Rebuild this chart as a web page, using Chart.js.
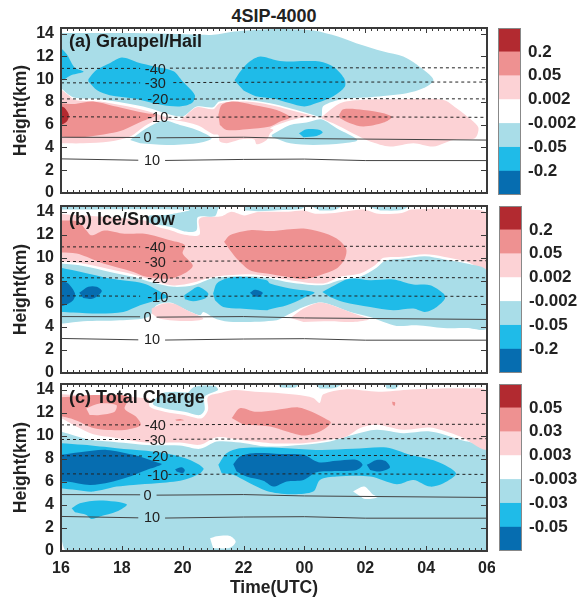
<!DOCTYPE html>
<html>
<head>
<meta charset="utf-8">
<script src="https://cdn.jsdelivr.net/npm/chart.js@4"></script>
<style>
body { margin: 0; background: #fff; }
canvas { position: absolute; }
#mainTitle { position: absolute; left: 0; top: 6px; width: 548px; text-align: center; font: bold 18px 'Liberation Sans', Arial, sans-serif; color: #222; }
</style>
</head>
<body>
<div id="mainTitle">4SIP-4000</div>
<canvas id="panelA" width="495" height="189" style="left:0;top:18px"></canvas>
<canvas id="panelB" width="495" height="191" style="left:0;top:196px"></canvas>
<canvas id="panelC" width="495" height="225" style="left:0;top:374px"></canvas>
<canvas id="barA" width="82" height="191" style="left:498px;top:18px"></canvas>
<canvas id="barB" width="82" height="191" style="left:499px;top:196px"></canvas>
<canvas id="barC" width="82" height="191" style="left:499px;top:374px"></canvas>
<script>
const FONT = "'Liberation Sans', Arial, sans-serif";
const DARK_BLUE = '#066db0', CYAN = '#1fbbe8', LIGHT_BLUE = '#a9dde8', WHITE = '#ffffff';
const PINK = '#fcd2d5', SALMON = '#ee9191', DARK_RED = '#b22a30';
const barColors = [DARK_BLUE, CYAN, LIGHT_BLUE, WHITE, PINK, SALMON, DARK_RED];

const hourLabels = ['16', '18', '20', '22', '00', '02', '04', '06'];
const barLabelsAB = ['0.2', '0.05', '0.002', '-0.002', '-0.05', '-0.2'];
const barLabelsC = ['0.05', '0.03', '0.003', '-0.003', '-0.03', '-0.05'];

// temperature contours, [time, km], null leaves the gap for the label
const tempM40 = [[16, 10.95], [18.6, 10.95], [19.58, null], [19.58, 10.97], [24, 11], [30, 11]];
const tempM30 = [[16, 9.68], [18.6, 9.68], [19.69, null], [19.69, 9.7], [24, 9.75], [30, 9.75]];
const tempM20 = [[16, 8.27], [18.7, 8.25], [19.58, null], [19.58, 8.25], [24, 8.3], [30, 8.27]];
const tempM10 = [[16, 6.7], [18.6, 6.67], [19.53, null], [19.53, 6.65], [24, 6.7], [30, 6.65]];
const temp0 = [[16, 4.9], [18.6, 4.88], [19.14, null], [19.14, 4.85], [22, 4.9], [24, 4.78], [30, 4.65]];
const temp10 = [[16, 3], [18.54, 2.88], [19.42, null], [19.42, 2.86], [22, 2.95], [24, 2.98], [26, 2.85], [30, 2.85]];
const tempLines = [tempM40, tempM30, tempM20, tempM10, temp0, temp10];
const tempDashed = [true, true, true, true, false, false];
const tempNames = ['-40', '-30', '-20', '-10', '0', '10'];
const tempNameSpots = [[19.1, 10.85], [19.1, 9.55], [19.18, 8.15], [19.18, 6.55], [18.84, 4.8], [18.99, 2.85]];

// (a) graupel/hail
const aLightTop = [[16, 14.05], [18.4, 14.05], [20.6, 13.9], [21, 13.9], [21.7, 14.2], [22.8, 14.4], [23.5, 14.4], [24.3, 14.28], [25.1, 13.75], [25.7, 13.17], [26.6, 12.43], [27.25, 12], [27.7, 11.26], [28.24, 9.94], [27.9, 9.2], [27.36, 8.77], [26.16, 8.42], [25.28, 8.27], [24.62, 7.65], [24.55, 6.7], [24.29, 6.86], [23.53, 7.45], [22.87, 7.89], [22.1, 8.18], [21.2, 8.03], [21, 7.53], [20.46, 7.6], [19.96, 6.72], [18.7, 7.6], [17.28, 8.24], [16.4, 8.42], [16, 9.2]];
const aLightLow1 = [[18.27, 4.66], [18.81, 5.69], [19.36, 6.36], [19.91, 5.98], [20.46, 5.54], [20.95, 4.81], [20.46, 4.37], [19.47, 4.22], [18.6, 4.37]];
const aLightLow2 = [[22.92, 5.1], [23.2, 5.54], [23.53, 5.98], [24.07, 6.19], [24.55, 6.48], [25.06, 5.69], [25.74, 4.66], [25.28, 4.37], [24.29, 4.22], [23.53, 4.37], [22.95, 4.9]];
const aPinkLeft = [[16, 9.1], [16.2, 8.7], [16.46, 8.18], [17.28, 8.03], [18.7, 7.3], [19.8, 6.42], [19.96, 6.5], [20.46, 7.54], [21, 7.36], [21.22, 7.89], [22.1, 8.03], [22.87, 7.74], [23.53, 7.3], [24.29, 6.77], [24.35, 6.7], [23.97, 6.66], [23.42, 6.28], [22.87, 5.69], [22.98, 5.54], [22.87, 5.25], [22.76, 4.66], [22.43, 4.28], [22.35, 4.7], [21.94, 4.72], [21.66, 4.52], [21.44, 4.37], [21.22, 4.52], [21.17, 5.1], [21, 5.16], [20.46, 5.98], [19.36, 6.48], [18.81, 5.98], [18.27, 4.96], [17.61, 4.52], [16.73, 4.37], [16, 4.37]];
const aPinkRight = [[24.57, 6.7], [25.17, 7.89], [25.83, 8.18], [27.25, 8.24], [28.57, 8.18], [29, 7.45], [29.55, 6.28], [29.72, 5.69], [29.6, 4.81], [28.89, 4.66], [28.24, 4.08], [27.58, 4.37], [26.81, 4.08], [26.16, 4.52], [25.77, 5], [25.06, 5.98], [24.57, 6.55]];
const aSalmonLeft = [[16, 7.89], [16.46, 7.83], [17.06, 8.03], [17.72, 7.65], [18.81, 7], [19.14, 6.86], [18.65, 6.28], [18.05, 5.54], [17.61, 5.25], [16.73, 4.9], [16.19, 4.9], [16, 4.96]];
const aSalmonMid = [[21.17, 6.86], [21.28, 7.74], [21.66, 8.03], [22.32, 7.74], [23.09, 7.3], [23.53, 6.66], [23.2, 6.28], [22.87, 5.84], [22.1, 5.6], [21.44, 5.54], [21.22, 5.98]];
const aSalmonRight = [[25.14, 6.86], [25.28, 7.36], [25.94, 7.3], [26.6, 7], [26.87, 6.66], [26.6, 6.19], [25.94, 5.84], [25.5, 6.13], [25.17, 6.57]];
const aRed = [[16, 7.65], [16.13, 7.45], [16.26, 6.86], [16.19, 6.28], [16, 5.98]];
const aCyanEdge = [[16, 12.75], [16.19, 12.2], [16.46, 11], [16.74, 10.66], [16.35, 10.37], [16.08, 9.95], [16, 9.95]];
const aCyanMid = [[16.9, 10], [17.16, 10.8], [17.6, 11.4], [18, 11.9], [18.5, 11.5], [19.1, 11.1], [19.7, 10.7], [20, 9.8], [20.4, 8.6], [20.3, 7.9], [19.9, 7.6], [19.3, 7.75], [18.4, 8.3], [17.6, 8.6], [17.2, 9], [16.9, 9.8]];
const aCyanRight = [[21.7, 9.9], [21.9, 10.7], [22.2, 11.55], [22.55, 12], [23.1, 11.65], [23.5, 11.55], [24, 11.6], [24.5, 11.55], [24.95, 11.1], [25.3, 10.1], [25.33, 9.35], [24.95, 8.5], [24.4, 7.9], [24, 7.6], [23.5, 7.9], [22.98, 8.3], [22.4, 8.5], [22, 9]];
const aCyanSmall = [[23.82, 5.25], [24.07, 5.6], [24.51, 5.54], [24.6, 5.31], [24.4, 5.01], [23.97, 4.9]];
const fillsA = [[LIGHT_BLUE, aLightTop], [LIGHT_BLUE, aLightLow1], [LIGHT_BLUE, aLightLow2], [PINK, aPinkLeft], [PINK, aPinkRight], [SALMON, aSalmonLeft], [SALMON, aSalmonMid], [SALMON, aSalmonRight], [DARK_RED, aRed], [CYAN, aCyanEdge], [CYAN, aCyanMid], [CYAN, aCyanRight], [CYAN, aCyanSmall]];

// (b) ice/snow
const bPink = [[16, 13.8], [18.75, 13.25], [19.19, 12.67], [19.62, 12.38], [20.06, 12], [20.55, 12], [20.55, 13.4], [21.27, 13.6], [21.6, 14], [22.03, 13.68], [22.47, 13.97], [23.47, 14], [23.96, 14.1], [24.35, 13.83], [25, 13.9], [25.93, 14.2], [26.43, 13.83], [27.2, 13.9], [27.52, 14.2], [29.4, 14.2], [30, 13.83], [30, 9], [29.33, 9.65], [28.57, 10.09], [27.96, 10.3], [27.25, 10.09], [26.6, 10], [26.32, 9.36], [25.83, 8.64], [25.17, 8.35], [24.62, 7.77], [23.53, 8.06], [22.87, 8.35], [22.2, 8.58], [21.12, 8.4], [20.79, 8.2], [20.35, 7.85], [19.7, 7.6], [19, 8.06], [18.38, 8.55], [17.61, 9], [16.73, 9.5], [16, 9.7]];
const bLight = [[16, 9.5], [16.73, 9.3], [17.61, 8.78], [18.38, 8.35], [19, 7.85], [19.7, 7.48], [20.35, 7.62], [20.79, 8.06], [21.12, 8.29], [22.2, 8.4], [22.87, 8.2], [23.53, 7.85], [24.57, 7.62], [25.17, 8.06], [25.83, 8.35], [26.37, 9.13], [26.65, 9.74], [27.25, 9.94], [27.96, 10.14], [28.57, 9.88], [29.33, 9.5], [30, 8.84], [30, 3.9], [29.33, 3.9], [28.57, 3.9], [27.69, 4.14], [27.03, 4.09], [26.6, 4.43], [26.16, 4.87], [25.5, 5.3], [24.57, 6.12], [23.97, 5.74], [23.47, 5.07], [23.09, 4.58], [21.66, 4.43], [21.12, 4.67], [20.68, 5.3], [20.57, 5.01], [19.91, 5.74], [19.58, 6.12], [19.14, 5.88], [18.87, 4.87], [17.93, 4.58], [16.73, 4.49], [16.07, 4.29], [16, 4.29]];
const bTopPatch = [[16, 14.5], [21.2, 14.5], [21.16, 14.2], [21.05, 13.6], [20.5, 13.54], [20.45, 12.38], [20.06, 12.29], [19.62, 12.67], [19.19, 12.87], [18.86, 13.1], [18.86, 13.62], [19.51, 13.74], [20.2, 14.15], [16, 14.2]];
const bStrip1 = [[22, 14.5], [24, 14.5], [23.9, 14.25], [23.3, 14.15], [22.5, 14.05], [22.05, 14.1]];
const bStrip2 = [[24.2, 14.5], [25.2, 14.5], [25, 14.15], [24.5, 14.1]];
const bStrip3 = [[26, 14.5], [27.4, 14.5], [27.2, 14.15], [26.5, 14.1]];
const bPinkLobe1 = [[18.98, 5.6], [19.36, 6.03], [19.7, 6.03], [20.14, 5.45], [20.68, 4.72], [20.14, 4.52], [19.25, 4.72], [18.98, 5.16]];
const bPinkLobe2 = [[23.55, 4.78], [23.97, 5.59], [24.51, 6.12], [25.06, 5.74], [25.72, 5.07], [26.12, 4.67], [25.6, 4.43], [24.84, 4.49], [23.97, 4.43]];
const bSalmonLeft = [[16, 13.25], [16.56, 13.16], [16.83, 12.4], [17, 11.95], [17.43, 12.38], [18.09, 12.09], [18.75, 12.09], [19.62, 11.5], [20.07, 11.1], [20, 10.38], [20.33, 9.36], [20.14, 8.78], [19.58, 8.2], [18.81, 8.35], [18.38, 8.78], [17.39, 9.5], [16.84, 10.09], [16.51, 10.38], [16, 10.46]];
const bSalmonRight = [[21.36, 11.39], [21.55, 11.97], [22.21, 12.4], [22.87, 12.32], [23.42, 12.46], [23.97, 12.55], [24.51, 12.26], [25.06, 11.68], [25.37, 10.8], [25.33, 9.94], [25.06, 9.07], [24.51, 8.49], [23.97, 8.14], [23.42, 8.35], [22.76, 8.64], [22.21, 8.93], [21.77, 9.94], [21.55, 10.67]];
const bCyanLeft = [[16, 9.13], [16.73, 8.72], [17.61, 8.2], [18.71, 7.77], [19.36, 6.9], [19.53, 6.6], [19.14, 6.32], [18.6, 5.88], [18.05, 5.3], [17.28, 5.16], [16.4, 5.25], [16, 5.3]];
const bCyanMid = [[20.05, 6.75], [20.29, 7.19], [20.51, 7.48], [20.84, 6.9], [20.73, 6.46], [20.35, 6.23], [20.07, 6.4]];
const bCyanBig = [[21, 6.9], [21.12, 7.77], [21.44, 8.2], [21.88, 8.35], [22.76, 8.06], [22.87, 7.77], [23.53, 7.33], [24.33, 6.99], [23.97, 6.52], [23.42, 5.88], [22.87, 5.54], [22.76, 5.45], [21.88, 5.59], [21.33, 5.74], [21.06, 6.32]];
const bCyanRight = [[24.59, 7.04], [25, 7.62], [25.5, 8.2], [26.16, 8.06], [26.92, 8.12], [27.58, 7.68], [28.13, 7.62], [28.57, 6.9], [28.62, 6.46], [28.35, 5.74], [27.96, 5.3], [27.58, 5.59], [26.92, 5.45], [26.16, 5.74], [25.28, 6.17], [24.84, 6.6]];
const bDark1 = [[16, 8.06], [16.24, 7.77], [16.46, 6.9], [16.4, 6.32], [16.08, 5.83], [16, 5.8]];
const bDark2 = [[16.6, 6.96], [16.9, 7.48], [17.17, 7.48], [17.34, 7.1], [17.06, 6.46], [16.73, 6.52]];
const bDark3 = [[22.21, 6.96], [22.37, 7.22], [22.63, 6.96], [22.49, 6.6], [22.32, 6.7]];
const fillsB = [[PINK, bPink], [LIGHT_BLUE, bLight], [LIGHT_BLUE, bTopPatch], [LIGHT_BLUE, bStrip1], [LIGHT_BLUE, bStrip2], [LIGHT_BLUE, bStrip3], [PINK, bPinkLobe1], [PINK, bPinkLobe2], [SALMON, bSalmonLeft], [SALMON, bSalmonRight], [CYAN, bCyanLeft], [CYAN, bCyanMid], [CYAN, bCyanBig], [CYAN, bCyanRight], [DARK_BLUE, bDark1], [DARK_BLUE, bDark2], [DARK_BLUE, bDark3]];

// (c) total charge
const cLight = [[16, 10.38], [16.3, 10.14], [16.95, 9.65], [17.61, 9.5], [18.81, 9.2], [19.91, 9.16], [20.57, 8.87], [21.12, 9.5], [21.88, 9.42], [22.76, 9.07], [23.97, 9.22], [24.84, 9.51], [25.6, 10.09], [26.37, 10.52], [27.25, 10.23], [28.13, 10.38], [29.12, 9.65], [30, 8.7], [30, 0], [16.2, 0], [16, 1.1]];
const cPink = [[16, 13.62], [18.86, 13.25], [18.92, 12.52], [19.4, 12.09], [20.06, 11.8], [20.61, 11.51], [20.83, 12.24], [20.83, 13.39], [21.27, 13.74], [21.7, 13.97], [22.375, 13.83], [23.03, 13.75], [23.75, 13.56], [24.29, 13.28], [24.5, 12.85], [24.62, 13.6], [25.33, 14.03], [26.43, 13.83], [27.52, 14.03], [29.4, 14.12], [30, 13.83], [30, 8.87], [29.12, 9.94], [28.13, 10.72], [27.25, 10.52], [26.37, 10.96], [25.83, 10.67], [25.39, 9.94], [24.84, 9.65], [23.97, 9.36], [22.87, 9.36], [21.88, 9.65], [21.12, 9.88], [20.57, 9.22], [19.91, 9.42], [18.81, 9.42], [17.72, 9.86], [17.06, 10.14], [16.51, 10.81], [16, 11.54]];
const cTopPatch = [[20.17, 13.74], [20.39, 14.26], [21.05, 14.32], [21.16, 13.97], [20.72, 13.39], [20.72, 12.24], [20.55, 11.8], [20.06, 12.09], [19.4, 12.38], [19.02, 12.76], [19.3, 13.68], [19.73, 13.83]];
const cStrip1 = [[23.14, 14.5], [23.8, 14.5], [23.7, 14.2], [23.2, 14.2]];
const cStrip2 = [[24.35, 14.5], [25.2, 14.5], [25, 14.15], [24.5, 14.1]];
const cStrip3 = [[26.65, 14.5], [27.1, 14.5], [27, 14.1], [26.7, 14.1]];
const cWhiteLow = [[20.9, 1.1], [21.12, 1.28], [21.55, 1.3], [21.74, 0.81], [21.55, 0.29], [21, 0.23]];
const cWhiteMid = [[25.6, 5.16], [25.96, 5.59], [26.24, 4.93], [26.4, 4.67], [25.99, 4.52], [25.77, 4.87]];
const cSalmonLeft = [[16, 13.34], [17.21, 13.54], [18.25, 13.4], [18.09, 12.38], [18.47, 11.66], [18.62, 10.93], [18.2, 10.56], [17.54, 10.5], [17, 10.73], [16.67, 11.14], [16.33, 11.5], [16, 11.7]];
const cNotch = [[16.83, 12.38], [17.27, 12.81], [17.82, 12.67], [17.76, 12.09], [17.27, 11.8], [16.94, 11.8]];
const cSalmonRight = [[21.61, 11.54], [21.88, 12.4], [22.375, 12.1], [23.03, 12.23], [23.8, 12.47], [24.24, 12.09], [24.68, 11.51], [24.87, 11.14], [24.51, 10.38], [23.97, 10.03], [23.42, 10.38], [22.87, 10.81], [22, 10.96]];
const cSpot1 = [[26.88, 12.95], [26.98, 12.9], [26.96, 12.6], [26.9, 12.7]];
const cSpot2 = [[19.75, 11.4], [19.95, 11.45], [20.05, 11.35], [19.8, 11.3]];
const cCyanLeft = [[16, 9.36], [16.73, 9.22], [17.83, 8.93], [18.81, 8.7], [19.58, 8.41], [20.24, 7.91], [20.68, 7.19], [20.57, 6.75], [20.02, 6.17], [19.14, 5.88], [18.38, 5.74], [17.83, 5.59], [17.06, 5.16], [16.51, 5.3], [16, 5.45]];
const cDarkLeft = [[16, 8.35], [16.62, 8.58], [17.5, 8.78], [18.38, 8.35], [19.14, 7.71], [19.31, 7.54], [18.81, 7.04], [18.16, 6.38], [17.61, 5.97], [16.95, 5.74], [16.19, 6.03], [16, 6.03]];
const cDarkSmall = [[19.75, 7.1], [19.96, 7.28], [20.07, 7.04], [20, 6.75], [19.8, 6.9]];
const cCyanLow = [[16.35, 3.71], [16.62, 4.14], [17.28, 4.38], [18.16, 4.06], [17.83, 3.42], [17.28, 2.99], [17, 2.78], [16.84, 3.13], [16.46, 3.36]];
const cCyanBig = [[21.17, 7.48], [21.44, 8.49], [21.88, 8.93], [22.76, 8.99], [23.42, 8.93], [24.51, 8.78], [25.6, 8.87], [26.7, 8.99], [27.47, 8.35], [28.35, 7.77], [28.98, 6.75], [28.57, 5.88], [28.13, 5.59], [27.58, 6.17], [27.03, 5.8], [26.16, 6.46], [25.06, 6.46], [24.51, 6.17], [24.29, 5.16], [23.53, 4.93], [22.76, 5.22], [22.1, 6.03], [21.66, 6.61], [21.28, 6.75]];
const cDarkBig = [[21.66, 7.54], [21.88, 8.2], [22.32, 8.49], [23.2, 8.43], [23.97, 8.35], [24.46, 7.71], [25.06, 7.83], [25.72, 7.91], [25.91, 7.48], [25.72, 7.04], [25.06, 6.95], [24.4, 6.84], [23.97, 6.17], [23.42, 6.03], [22.98, 5.59], [22.65, 6.09], [22.1, 6.46], [21.77, 6.9]];
const cDarkBlob = [[26.05, 7.48], [26.37, 7.91], [26.65, 7.83], [26.81, 7.25], [26.48, 6.9], [26.16, 7.04]];
const fillsC = [[LIGHT_BLUE, cLight], [PINK, cPink], [LIGHT_BLUE, cTopPatch], [LIGHT_BLUE, cStrip1], [LIGHT_BLUE, cStrip2], [LIGHT_BLUE, cStrip3], [WHITE, cWhiteLow], [WHITE, cWhiteMid], [SALMON, cSalmonLeft], [PINK, cNotch], [SALMON, cSalmonRight], [SALMON, cSpot1], [SALMON, cSpot2], [CYAN, cCyanLeft], [DARK_BLUE, cDarkLeft], [DARK_BLUE, cDarkSmall], [CYAN, cCyanLow], [CYAN, cCyanBig], [DARK_BLUE, cDarkBig], [DARK_BLUE, cDarkBlob]];

const heightTicks = [0, 2, 4, 6, 8, 10, 12, 14];
const minorStep = 0.2;

// frame, inward ticks, contour labels and the panel letter
const panelDecor = {
    id: 'panelDecor',
    afterDraw(chart, args, opts) {
        const c = chart.ctx, area = chart.chartArea;
        const x = chart.scales.x, y = chart.scales.y;
        c.save();
        c.strokeStyle = '#3a3a3a';
        c.lineWidth = 1;
        c.beginPath();
        for (let t = 16; t <= 30.001; t += minorStep) {
            const px = Math.round(x.getPixelForValue(t)) + 0.5;
            const major = Math.abs(t / 2 - Math.round(t / 2)) < 0.01;
            const len = major ? 5 : 3;
            c.moveTo(px, area.top); c.lineTo(px, area.top + len);
            c.moveTo(px, area.bottom); c.lineTo(px, area.bottom - len);
        }
        heightTicks.forEach(h => {
            const py = Math.round(y.getPixelForValue(h)) + 0.5;
            c.moveTo(area.left, py); c.lineTo(area.left + 6, py);
            c.moveTo(area.right, py); c.lineTo(area.right - 6, py);
        });
        c.stroke();
        c.lineWidth = 2;
        c.strokeRect(area.left, area.top, area.right - area.left, area.bottom - area.top);

        c.fillStyle = '#222';
        c.font = '14.5px ' + FONT;
        c.textAlign = 'center';
        c.textBaseline = 'middle';
        tempNames.forEach((name, i) => {
            c.fillText(name, x.getPixelForValue(tempNameSpots[i][0]), y.getPixelForValue(tempNameSpots[i][1]));
        });
        c.font = 'bold 18px ' + FONT;
        c.textAlign = 'left';
        c.fillStyle = '#1a1a1a';
        c.fillText(opts.label, area.left + 8, area.top + 14);
        c.restore();
    },
};

function makePanel(id, label, fills, padBottom, showTime) {
    const total = fills.length;
    const datasets = fills.map((f, i) => ({
        data: f[1],
        showLine: true,
        fill: 'shape',
        backgroundColor: f[0],
        borderWidth: 0,
        pointRadius: 0,
        tension: 0.3,
        order: total - i + 1,
    }));
    tempLines.forEach((line, i) => {
        datasets.push({
            data: line,
            showLine: true,
            fill: false,
            borderColor: tempDashed[i] ? '#222' : '#444',
            borderWidth: 1,
            borderDash: tempDashed[i] ? [3, 3] : [],
            pointRadius: 0,
            order: 0,
        });
    });
    return new Chart(document.getElementById(id), {
        type: 'scatter',
        data: { datasets },
        plugins: [panelDecor],
        options: {
            responsive: false,
            animation: false,
            devicePixelRatio: 1,
            layout: { padding: { top: 10, right: 8, bottom: padBottom, left: 0 } },
            plugins: { legend: { display: false }, tooltip: { enabled: false }, panelDecor: { label } },
            scales: {
                x: {
                    type: 'linear',
                    min: 16,
                    max: 30,
                    display: showTime,
                    grid: { display: false, drawTicks: false },
                    border: { display: false },
                    ticks: {
                        stepSize: 2,
                        maxRotation: 0,
                        padding: 8,
                        color: '#222',
                        font: { size: 16, weight: 'bold', family: FONT },
                        callback: v => hourLabels[(v - 16) / 2],
                    },
                    title: {
                        display: showTime,
                        text: 'Time(UTC)',
                        color: '#222',
                        font: { size: 17.5, weight: 'bold', family: FONT },
                        padding: { top: 0, bottom: 0 },
                    },
                    afterFit: s => { s.height = showTime ? 48 : 0; s.paddingLeft = 0; s.paddingRight = 0; },
                },
                y: {
                    type: 'linear',
                    min: 0,
                    max: 14.5,
                    grid: { display: false, drawTicks: false },
                    border: { display: false },
                    ticks: {
                        stepSize: 2,
                        includeBounds: false,
                        padding: 7,
                        color: '#222',
                        font: { size: 16, weight: 'bold', family: FONT },
                    },
                    title: {
                        display: true,
                        text: 'Height(km)',
                        color: '#222',
                        font: { size: 17.5, weight: 'bold', family: FONT },
                        padding: { top: 11, bottom: 0 },
                    },
                    afterFit: s => { s.width = 61; s.paddingTop = 0; s.paddingBottom = 0; },
                },
            },
        },
    });
}

const barFrame = {
    id: 'barFrame',
    afterDraw(chart) {
        const a = chart.chartArea, c = chart.ctx;
        c.save();
        c.strokeStyle = '#888';
        c.lineWidth = 1;
        c.strokeRect(a.left + 0.5, a.top + 0.5, a.right - a.left - 1, a.bottom - a.top - 1);
        c.restore();
    },
};

function makeBar(id, labels) {
    return new Chart(document.getElementById(id), {
        type: 'bar',
        data: {
            labels: ['level'],
            datasets: barColors.map(color => ({
                data: [1],
                backgroundColor: color,
                borderWidth: 0,
                barPercentage: 1,
                categoryPercentage: 1,
            })),
        },
        plugins: [barFrame],
        options: {
            responsive: false,
            animation: false,
            devicePixelRatio: 1,
            layout: { padding: { top: 10, right: 0, bottom: 14, left: 0 } },
            plugins: { legend: { display: false }, tooltip: { enabled: false } },
            scales: {
                x: { stacked: true, display: false },
                y: {
                    stacked: true,
                    position: 'right',
                    min: 0,
                    max: 7,
                    grid: { display: false, drawTicks: false },
                    border: { display: false },
                    ticks: {
                        stepSize: 1,
                        padding: 7,
                        color: '#222',
                        font: { size: 17, weight: 'bold', family: FONT },
                        callback: v => labels[6 - v] ?? '',
                    },
                    afterFit: s => { s.width = 59; s.paddingTop = 0; s.paddingBottom = 0; },
                },
            },
        },
    });
}

makePanel('panelA', '(a) Graupel/Hail', fillsA, 14, false);
makePanel('panelB', '(b) Ice/Snow', fillsB, 14, false);
makePanel('panelC', '(c) Total Charge', fillsC, 0, true);
makeBar('barA', barLabelsAB);
makeBar('barB', barLabelsAB);
makeBar('barC', barLabelsC);
</script>
</body>
</html>
